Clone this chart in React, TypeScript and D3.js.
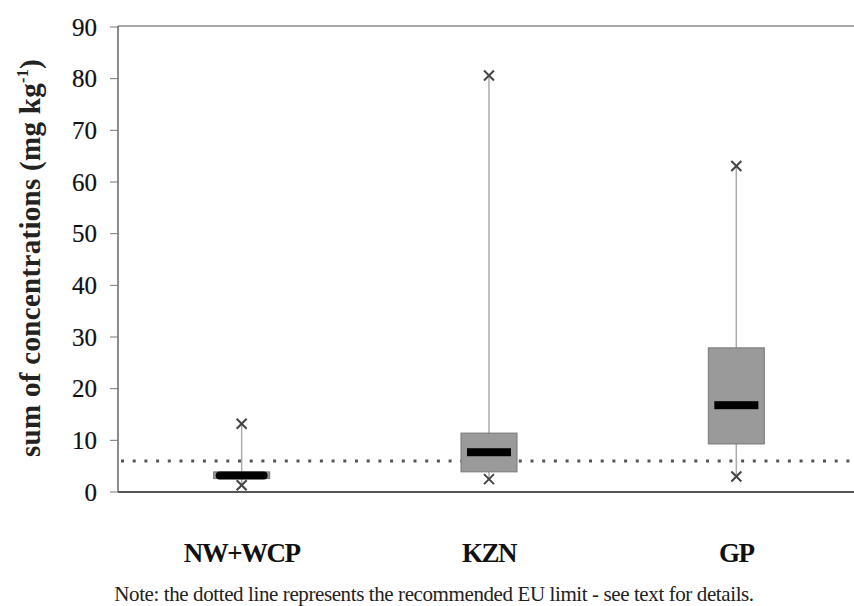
import React from "react";
import * as d3 from "d3";

// regions
const categories = ["NW+WCP", "KZN", "GP"];
// box statistics (mg kg-1)
const minValues = [1.3, 2.5, 3.0];
const q1Values = [2.6, 3.9, 9.3];
const medianValues = [3.2, 7.7, 16.8];
const q3Values = [3.9, 11.4, 27.9];
const maxValues = [13.2, 80.6, 63.1];
const yTicks = [0, 10, 20, 30, 40, 50, 60, 70, 80, 90];
const euLimit = 6;

const width = 854;
const height = 606;
const margin = { top: 27, right: -6, bottom: 114, left: 118 };

const serif = "Liberation Serif, DejaVu Serif, serif";

const Cross = ({ x, y }: { x: number; y: number }) => {
  const s = 5;
  return (
    <g stroke="#444" strokeWidth={2}>
      <line x1={x - s} y1={y - s} x2={x + s} y2={y + s} />
      <line x1={x - s} y1={y + s} x2={x + s} y2={y - s} />
    </g>
  );
};

export default function App() {
  const innerBottom = height - margin.bottom;
  const innerRight = width - margin.right;

  const y = d3.scaleLinear().domain([0, 90]).range([innerBottom, margin.top]);
  const x = d3
    .scaleBand<string>()
    .domain(categories)
    .range([margin.left, innerRight]);

  const boxW = 56;
  const medW = 44;
  const medH = 8;

  return (
    <svg
      width={width}
      height={height}
      style={{ position: "absolute", left: 0, top: 0, background: "#fff", fontFamily: serif }}
    >
      {/* plot frame */}
      <line x1={margin.left} x2={innerRight} y1={margin.top - 1} y2={margin.top - 1} stroke="#888" strokeWidth={1.5} />
      <line x1={margin.left} x2={margin.left} y1={margin.top - 1} y2={innerBottom} stroke="#666" strokeWidth={1.5} />
      <line x1={margin.left} x2={innerRight} y1={innerBottom} y2={innerBottom} stroke="#555" strokeWidth={2} />

      {/* y ticks */}
      {yTicks.map(t => (
        <g key={t}>
          <line x1={margin.left - 8} x2={margin.left} y1={y(t)} y2={y(t)} stroke="#777" strokeWidth={1} />
          <text
            x={margin.left - 21}
            y={y(t)}
            dy="0.35em"
            textAnchor="end"
            style={{ fontFamily: serif, fontSize: 25 }}
            fill="#111"
            stroke="#111"
            strokeWidth={0.2}
          >
            {t}
          </text>
        </g>
      ))}

      {/* y title */}
      <text
        transform={`translate(40,258) rotate(-90)`}
        textAnchor="middle"
        style={{ fontFamily: serif, fontSize: 29, fontWeight: "bold", letterSpacing: 0.3 }}
        fill="#222"
      >
        sum of concentrations (mg kg
        <tspan dy={-12} style={{ fontSize: 16 }}>-1</tspan>
        <tspan dy={12}>)</tspan>
      </text>

      {/* EU limit */}
      <line
        x1={margin.left + 3}
        x2={innerRight}
        y1={y(euLimit)}
        y2={y(euLimit)}
        stroke="#555"
        strokeWidth={3}
        strokeDasharray="3 8.7"
      />

      {/* boxes */}
      {categories.map((c, i) => {
        const cx = x(c)! + x.bandwidth() / 2;
        return (
          <g key={c}>
            <line x1={cx} x2={cx} y1={y(maxValues[i])} y2={y(minValues[i])} stroke="#aaa" strokeWidth={1.5} />
            <rect
              x={cx - boxW / 2}
              y={y(q3Values[i])}
              width={boxW}
              height={y(q1Values[i]) - y(q3Values[i])}
              fill="#9a9a9a"
              stroke="#777"
              strokeWidth={1}
            />
            <rect
              x={cx - (i === 0 ? 26 : medW / 2)}
              y={y(medianValues[i]) - medH / 2}
              width={i === 0 ? 52 : medW}
              height={medH}
              rx={i === 0 ? 4 : 0}
              fill="#000"
            />
            <Cross x={cx} y={y(maxValues[i])} />
            <Cross x={cx} y={y(minValues[i])} />
            <text
              x={cx}
              y={innerBottom + 70}
              textAnchor="middle"
              style={{ fontFamily: serif, fontSize: 27, fontWeight: "bold", letterSpacing: -1.5 }}
              fill="#111"
            >
              {c}
            </text>
          </g>
        );
      })}

      <text
        x={434}
        y={601}
        textAnchor="middle"
        style={{ fontFamily: serif, fontSize: 21, letterSpacing: -0.4 }}
        fill="#222"
      >
        Note: the dotted line represents the recommended EU limit - see text for details.
      </text>
    </svg>
  );
}
